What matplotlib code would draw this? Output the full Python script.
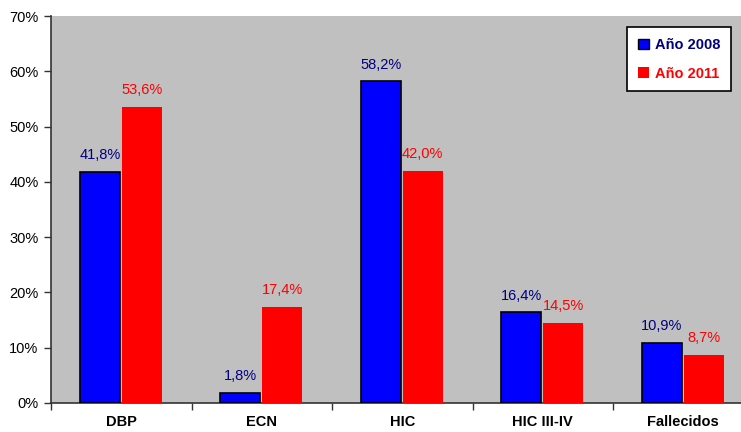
import matplotlib
matplotlib.use("Agg")
import matplotlib.pyplot as plt
import numpy as np
from matplotlib.patches import Patch

plt.rcParams['font.family'] = ['Liberation Sans', 'DejaVu Sans']

categories = ["DBP", "ECN", "HIC", "HIC III-IV", "Fallecidos"]
values_2008 = [41.8, 1.8, 58.2, 16.4, 10.9]
values_2011 = [53.6, 17.4, 42.0, 14.5, 8.7]
yticks = [0, 10, 20, 30, 40, 50, 60, 70]

blue = "#0000FF"
red = "#FF0000"
navy = "#000080"

fig = plt.figure(figsize=(7.41, 4.32), dpi=100)
# plot area runs past the right edge of the canvas
ax = fig.add_axes([51 / 741, 1 - 403 / 432, 702.5 / 741, 387 / 432])
ax.set_facecolor("#C0C0C0")

x = np.arange(len(categories))
w = 0.285
b1 = ax.bar(x - 0.153, values_2008, w, color=blue, edgecolor="black", linewidth=1.2, zorder=3)
b2 = ax.bar(x + 0.146, values_2011, w, color=red, edgecolor="none", zorder=3)

def fmt(v):
    return f"{v:.1f}".replace(".", ",") + "%"

for rect, v in zip(b1, values_2008):
    ax.annotate(fmt(v), (rect.get_x() + rect.get_width() / 2, v), xytext=(0, 7),
                textcoords="offset points", ha="center", va="bottom",
                color=navy, fontsize=10.5)
for rect, v in zip(b2, values_2011):
    ax.annotate(fmt(v), (rect.get_x() + rect.get_width() / 2, v), xytext=(0, 7),
                textcoords="offset points", ha="center", va="bottom",
                color=red, fontsize=10.5)

ax.set_xlim(-0.5, len(categories) - 0.5)
ax.set_ylim(0, 70)
ax.set_yticks(yticks)
ax.set_yticklabels([f"{t}%" for t in yticks], fontsize=10.5)
ax.set_xticks(x)
ax.set_xticklabels(categories, fontsize=10.5, fontweight="bold")
ax.tick_params(axis="x", length=0, pad=9)
ax.set_xticks(np.arange(len(categories) + 1) - 0.5, minor=True)
ax.tick_params(axis="x", which="minor", length=5, width=1, color="#333333")
ax.tick_params(axis="y", length=5, width=1, color="#333333", pad=4)

for s in ["top", "right"]:
    ax.spines[s].set_visible(False)
for s in ["left", "bottom"]:
    ax.spines[s].set_color("#333333")
    ax.spines[s].set_linewidth(1.2)

handles = [Patch(facecolor=blue, edgecolor="black", linewidth=1),
           Patch(facecolor=red, edgecolor="none")]
leg = ax.legend(handles, ["Año 2008", "Año 2011"], loc="upper left",
                bbox_to_anchor=((627 - 51) / 702.5, (403 - 27) / 387),
                borderaxespad=0,
                frameon=True, fancybox=False, edgecolor="black", facecolor="white",
                framealpha=1, handlelength=0.75, handleheight=0.75, handletextpad=0.4,
                labelspacing=1.0, borderpad=0.75,
                prop={"weight": "bold", "size": 10.5})
leg.get_frame().set_linewidth(1.2)
for txt, c in zip(leg.get_texts(), [navy, red]):
    txt.set_color(c)

fig.savefig("out.png", dpi=100, facecolor="white")
